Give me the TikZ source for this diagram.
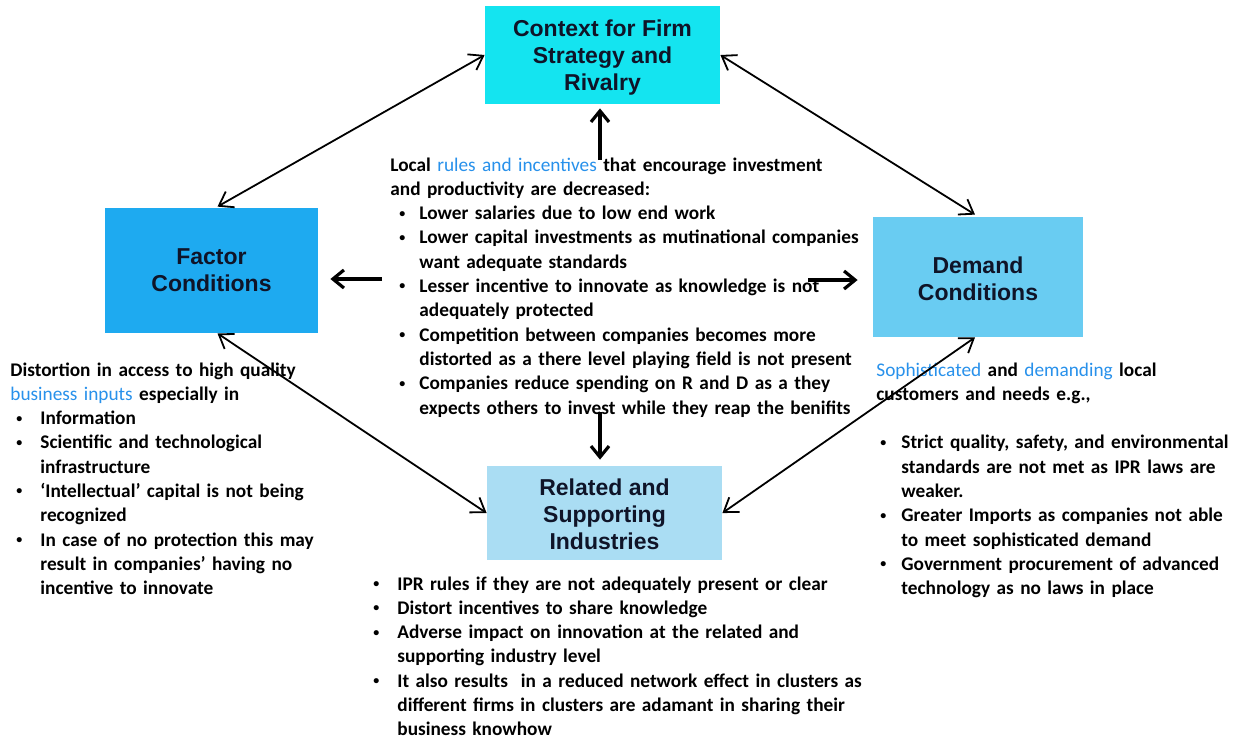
\documentclass[tikz,border=0pt]{standalone}
\usepackage{fontspec}
\setmainfont{Carlito}
\newfontfamily\titlefont{Liberation Sans}
\usetikzlibrary{arrows.meta}
\definecolor{ctxcol}{RGB}{20,228,240}
\definecolor{faccol}{RGB}{30,170,240}
\definecolor{demcol}{RGB}{105,204,242}
\definecolor{relcol}{RGB}{170,221,243}
\definecolor{hlcol}{RGB}{40,145,235}
\definecolor{ttlcol}{RGB}{15,20,40}
\newcommand\hl[1]{\textcolor{hlcol}{\mdseries #1}}
\newcommand\bul[2]{\makebox[#2][l]{\hspace*{#1}\raisebox{1.3pt}{\fontsize{6}{6}\selectfont\textbullet}}}
\newcommand\lowered[2]{\raisebox{-#1}[\height][\depth]{#2}}
\begin{document}
\begin{tikzpicture}[x=0.5pt,y=-0.5pt,
  box/.style={draw=none, inner sep=0pt, align=center, text=ttlcol,
    font={\titlefont\bfseries\fontsize{11.5}{13.5}\selectfont}},
  txt/.style={inner sep=0pt, anchor=base west, align=left,
    font={\bfseries\fontsize{9.65}{12.15}\selectfont\parindent=0pt}},
  dbl/.style={{Straight Barb[length=6.5pt,width=9pt]}-{Straight Barb[length=6.5pt,width=9pt]}, line width=0.9pt},
  sgl/.style={-{Straight Barb[length=5.5pt,width=9pt]}, line width=1.6pt}]
\useasboundingbox[fill=white] (0,0) rectangle (1248,740);

\node[box, fill=ctxcol, minimum width=117.5pt, minimum height=49pt] (ctx) at (602.5,55)
  {\lowered{1.5pt}{\parbox{117pt}{\centering Context for Firm\\Strategy and\\Rivalry}}};
\node[box, fill=faccol, minimum width=106.5pt, minimum height=62.5pt] (fac) at (211.5,270.5)
  {Factor\\Conditions};
\node[box, fill=demcol, minimum width=105pt, minimum height=60pt] (dem) at (978,277)
  {\lowered{0.8pt}{\parbox{104pt}{\centering Demand\\Conditions}}};
\node[box, fill=relcol, minimum width=117.5pt, minimum height=47pt] (rel) at (604.5,513)
  {\lowered{0.8pt}{\parbox{117pt}{\centering Related and\\Supporting\\Industries}}};

\node[txt, text width=270pt] (ctxt) at (390,171) {%
Local \hl{rules and incentives} that encourage investment\\
and productivity are decreased:\\
\bul{4.5pt}{14.5pt}Lower salaries due to low end work\\
\bul{4.5pt}{14.5pt}Lower capital investments as mutinational companies\\
\hspace*{14.5pt}want adequate standards\\
\bul{4.5pt}{14.5pt}Lesser incentive to innovate as knowledge is not\\
\hspace*{14.5pt}adequately protected\\
\bul{4.5pt}{14.5pt}Competition between companies becomes more\\
\hspace*{14.5pt}distorted as a there level playing field is not present\\
\bul{4.5pt}{14.5pt}Companies reduce spending on R and D as a they\\
\hspace*{14.5pt}expects others to invest while they reap the benifits};

\node[txt, text width=200pt] (ltxt) at (10,376) {%
Distortion in access to high quality\\
\hl{business inputs} especially in\\
\bul{3pt}{15pt}Information\\
\bul{3pt}{15pt}Scientific and technological\\
\hspace*{15pt}infrastructure\\
\bul{3pt}{15pt}‘Intellectual’ capital is not being\\
\hspace*{15pt}recognized\\
\bul{3pt}{15pt}In case of no protection this may\\
\hspace*{15pt}result in companies’ having no\\
\hspace*{15pt}incentive to innovate};

\node[txt, text width=200pt] (rtxt) at (876,376) {%
\hl{Sophisticated} and \hl{demanding} local\\
customers and needs e.g.,\\
\mbox{}\\
\bul{2pt}{12.5pt}Strict quality, safety, and environmental\\
\hspace*{12.5pt}standards are not met as IPR laws are\\
\hspace*{12.5pt}weaker.\\
\bul{2pt}{12.5pt}Greater Imports as companies not able\\
\hspace*{12.5pt}to meet sophisticated demand\\
\bul{2pt}{12.5pt}Government procurement of advanced\\
\hspace*{12.5pt}technology as no laws in place};

\node[txt, text width=280pt] (btxt) at (373,590) {%
\bul{0pt}{12pt}IPR rules if they are not adequately present or clear\\
\bul{0pt}{12pt}Distort incentives to share knowledge\\
\bul{0pt}{12pt}Adverse impact on innovation at the related and\\
\hspace*{12pt}supporting industry level\\
\bul{0pt}{12pt}It also results\ \ in a reduced network effect in clusters as\\
\hspace*{12pt}different firms in clusters are adamant in sharing their\\
\hspace*{12pt}business knowhow};

% double-headed connectors between boxes
\draw[dbl] ([xshift=3pt,yshift=0.5pt]fac.north) -- (ctx.west);
\draw[dbl] (ctx.east) -- ([xshift=-1.5pt,yshift=1pt]dem.north);
\draw[dbl] ([xshift=3pt]fac.south) -- (rel.west);
\draw[dbl] ([xshift=-1.5pt]dem.south) -- (rel.east);

% single arrows from the centre text
\coordinate (up0) at (600,160);
\coordinate (dn0) at (600,412);
\coordinate (lf0) at (382,279);
\coordinate (rt0) at (808,280);
\draw[sgl, shorten >=2pt] (up0) -- (up0 |- ctx.south);
\draw[sgl, shorten >=3pt] (dn0) -- (dn0 |- rel.north);
\draw[sgl, shorten >=6pt] (lf0) -- (lf0 -| fac.east);
\draw[sgl, shorten >=7.5pt] (rt0) -- (rt0 -| dem.west);
\end{tikzpicture}
\end{document}
